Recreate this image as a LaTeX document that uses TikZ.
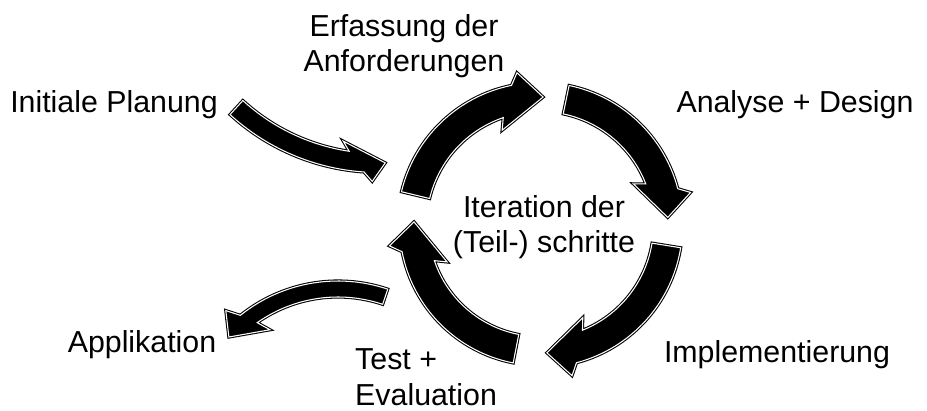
\documentclass[tikz,border=0pt]{standalone}
\usepackage{fontspec}
\setmainfont{Liberation Sans}
\usetikzlibrary{calc}

% curved block arrow around a centre:
% #1 centre, #2 radius, #3 half shaft, #4 half head,
% #5 tail angle, #6 head base angle, #7 tip angle, #8 tilt of head base
\newcommand{\arcarrow}[8]{%
  \begin{scope}[shift={(#1)}]
    \pgfmathsetmacro\rout{#2+#3}
    \pgfmathsetmacro\rin{#2-#3}
    \pgfmathsetmacro\rbout{#2+#4}
    \pgfmathsetmacro\rbin{#2-#4}
    \pgfmathsetmacro\aout{#6+#8*#3/#4}
    \pgfmathsetmacro\ain{#6-#8*#3/#4}
    \pgfmathsetmacro\bout{#6+#8}
    \pgfmathsetmacro\bin{#6-#8}
    \path[blockarrow] (#5:\rout) arc[start angle=#5, end angle=\aout, radius=\rout]
      -- (\bout:\rbout) -- (#7:#2) -- (\bin:\rbin) -- (\ain:\rin)
      arc[start angle=\ain, end angle=#5, radius=\rin] -- cycle;
  \end{scope}}

\tikzset{
  blockarrow/.style={fill=black, draw=black, line width=0.9pt, double=white, double distance=0.9pt},
  steplabel/.style={inner sep=0pt, anchor=base, font=\fontsize{25.9}{30.7}\selectfont}
}

\begin{document}
\begin{tikzpicture}[x=0.3mm, y=0.3mm]
	\useasboundingbox (0,0) rectangle (927,410);
	\coordinate (cyc) at (540,185);
	\coordinate (plancen) at (379,458);
	\coordinate (appcen) at (338,-27);

	% iteration cycle
	\arcarrow{cyc}{128}{14.5}{26}{166.5}{105.2}{88.6}{-6.6}
	\arcarrow{cyc}{128}{14.5}{26}{78.2}{18.0}{3.4}{-5.8}
	\arcarrow{cyc}{128}{14.5}{26}{-9.2}{-71.6}{-86.9}{-6.4}
	\arcarrow{cyc}{126}{14.5}{26}{-101.0}{-165.2}{-181.4}{-6.9}

	% entry and exit arrows
	\arcarrow{plancen}{211}{9.5}{18.5}{-132.5}{-96.2}{-88.3}{4.5}
	\arcarrow{appcen}{148}{8}{21}{71.4}{127.0}{137.5}{4.6}

	% labels (base of a two-line label is its last line)
	\node[steplabel, align=center] (req) at (404,338) {Erfassung der\\Anforderungen};
	\node[steplabel] (plan) at (114,297) {Initiale Planung};
	\node[steplabel] (design) at (795,297) {Analyse + Design};
	\node[steplabel, align=center] (iter) at (544,157) {Iteration der\\(Teil-) schritte};
	\node[steplabel] (app) at (142,58) {Applikation};
	\node[steplabel] (impl) at (777,48) {Implementierung};
	\node[steplabel, anchor=base west, align=left] (test) at (355,5) {Test +\\Evaluation};
\end{tikzpicture}
\end{document}
